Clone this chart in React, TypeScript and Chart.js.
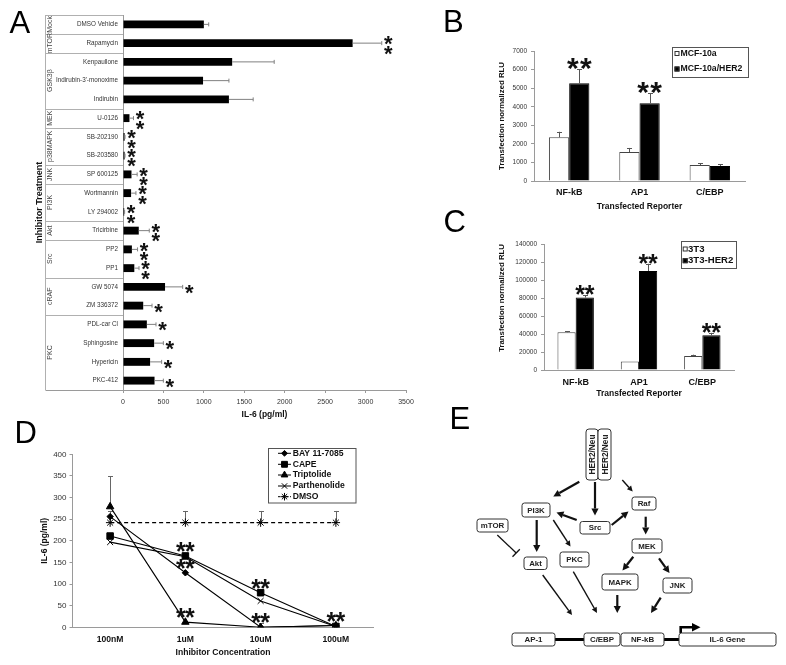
import React, { useEffect, useRef } from "react";
import { Chart, registerables } from "chart.js";
import { drawPoint } from "chart.js/helpers";

Chart.register(...registerables);

const FONT = "'Liberation Sans', Arial, Helvetica, sans-serif";

// ---------------- Panel A data ----------------
const aTreatments = [
  "DMSO Vehicle", "Rapamycin", "Kenpaullone", "Indirubin-3'-monoxime", "Indirubin",
  "U-0126", "SB-202190", "SB-203580", "SP 600125", "Wortmannin", "LY 294002",
  "Tricirbine", "PP2", "PP1", "GW 5074", "ZM 336372", "PDL-car Cl", "Sphingosine",
  "Hypericin", "PKC-412",
];
const aValues = [1000, 2840, 1350, 990, 1310, 80, 20, 20, 105, 100, 15, 195, 110, 140, 520, 250, 295, 385, 335, 390];
const aErrors = [60, 360, 520, 320, 300, 50, 5, 5, 70, 60, 5, 130, 70, 58, 218, 109, 113, 114, 143, 109];
const aSignificance = ["", "**", "", "", "", "**", "**", "**", "**", "**", "**", "**", "**", "**", "*", "*", "*", "*", "*", "*"];
const aGroupLabels = ["Mock", "mTOR", "GSK3β", "MEK", "p38MAPK", "JNK", "PI3K", "Akt", "Src", "cRAF", "PKC"];
const aGroupSizes = [1, 1, 3, 1, 2, 1, 2, 1, 2, 2, 4];

// ---------------- Panel B data ----------------
const reporterLabels = ["NF-kB", "AP1", "C/EBP"];
const bSeriesNames = ["MCF-10a", "MCF-10a/HER2"];
const bMcf10a = [2350, 1560, 860];
const bMcf10aErr = [300, 220, 100];
const bMcf10aHer2 = [5260, 4190, 810];
const bMcf10aHer2Err = [770, 530, 100];
const bSignificance = ["**", "**", ""];

// ---------------- Panel C data ----------------
const cSeriesNames = ["3T3", "3T3-HER2"];
const c3t3 = [42000, 9500, 15500];
const c3t3Err = [800, 0, 1500];
const c3t3Her2 = [80500, 110000, 38500];
const c3t3Her2Err = [2700, 8000, 2800];
const cSignificance = ["**", "**", "**"];

// ---------------- Panel D data ----------------
const concentrations = ["100nM", "1uM", "10uM", "100uM"];
const dSeriesNames = ["BAY 11-7085", "CAPE", "Triptolide", "Parthenolide", "DMSO"];
const dBay = [256, 126, 0, 4];
const dCape = [211, 165, 80, 2];
const dTriptolide = [279, 12, 0, 4];
const dParthenolide = [197, 163, 61, 2];
const dDmso = [242, 242, 242, 242];
const dBayErr = [0, 0, 0, 0];
const dCapeErr = [0, 0, 0, 0];
const dTriptolideErr = [70, 0, 10, 0];
const dParthenolideErr = [0, 0, 0, 0];
const dDmsoErr = [27, 27, 27, 27];
const dSigBay = ["", "**", "", ""];
const dSigCape = ["", "**", "**", ""];
const dSigTriptolide = ["", "**", "**", "**"];
const dSigParthenolide = ["", "", "", ""];
const dSigDmso = ["", "", "", ""];

// ---------------- styles ----------------
const dMarkerStyles = [
  { pointStyle: "rectRot", radius: 3.2, dash: [] as number[] },
  { pointStyle: "rect", radius: 4.6, dash: [] as number[] },
  { pointStyle: "triangle", radius: 4.3, dash: [] as number[] },
  { pointStyle: "crossRot", radius: 4.2, dash: [] as number[] },
  { pointStyle: "star", radius: 4.2, dash: [4, 3] },
];

const AXIS = "#9a9a9a";
const plainTick = (v: any) => String(v);

function drawAsterisks(ctx: CanvasRenderingContext2D, count: number, cx: number, cy: number, size: number, gap: number, vertical: boolean) {
  ctx.save();
  ctx.fillStyle = "#111";
  ctx.font = `bold ${size}px ${FONT}`;
  ctx.textAlign = "center";
  ctx.textBaseline = "alphabetic";
  for (let k = 0; k < count; k++) {
    const off = (k - (count - 1) / 2) * gap;
    const x = vertical ? cx : cx + off;
    const y = vertical ? cy + off : cy;
    ctx.fillText("*", x, y + size * 0.56);
  }
  ctx.restore();
}

function hline(ctx: CanvasRenderingContext2D, x1: number, x2: number, y: number) {
  ctx.beginPath();
  ctx.moveTo(x1, y);
  ctx.lineTo(x2, y);
  ctx.stroke();
}
function vline(ctx: CanvasRenderingContext2D, x: number, y1: number, y2: number) {
  ctx.beginPath();
  ctx.moveTo(x, y1);
  ctx.lineTo(x, y2);
  ctx.stroke();
}

// ---------------- Panel A ----------------
const panelAPlugin = {
  id: "panelA",
  afterDatasetsDraw(chart: any) {
    const ctx: CanvasRenderingContext2D = chart.ctx;
    const xs = chart.scales.x;
    const meta = chart.getDatasetMeta(0);
    ctx.save();
    ctx.strokeStyle = "#808080";
    ctx.lineWidth = 1;
    meta.data.forEach((bar: any, i: number) => {
      const x0 = bar.x;
      const y = bar.y;
      const x1 = xs.getPixelForValue(aValues[i] + aErrors[i]);
      hline(ctx, x0, x1, y);
      vline(ctx, x1, y - 2, y + 2);
      const n = aSignificance[i].length;
      if (n) drawAsterisks(ctx, n, x1 + 6.5, y + 0.7, 22, 9.4, true);
    });
    ctx.restore();
  },
  afterDraw(chart: any) {
    const ctx: CanvasRenderingContext2D = chart.ctx;
    const ys = chart.scales.y;
    const area = chart.chartArea;
    const half = (ys.getPixelForValue(1) - ys.getPixelForValue(0)) / 2;
    const leftX = 45.5;
    ctx.save();
    ctx.strokeStyle = "#b0b0b0";
    ctx.lineWidth = 1;
    let idx = 0;
    aGroupSizes.forEach((n, g) => {
      const top = ys.getPixelForValue(idx) - half;
      const bot = ys.getPixelForValue(idx + n - 1) + half;
      hline(ctx, leftX, area.left, Math.round(top) + 0.5);
      ctx.save();
      ctx.translate(50.5, (top + bot) / 2);
      ctx.rotate(-Math.PI / 2);
      ctx.fillStyle = "#444";
      ctx.font = `7px ${FONT}`;
      ctx.textAlign = "center";
      ctx.textBaseline = "middle";
      ctx.fillText(aGroupLabels[g], 0, 0);
      ctx.restore();
      idx += n;
    });
    ctx.strokeStyle = AXIS;
    hline(ctx, leftX, area.left, Math.round(area.bottom) + 0.5);
    ctx.strokeStyle = "#b0b0b0";
    vline(ctx, leftX, area.top, area.bottom);
    ctx.save();
    ctx.translate(39.5, (area.top + area.bottom) / 2);
    ctx.rotate(-Math.PI / 2);
    ctx.fillStyle = "#111";
    ctx.font = `bold 9px ${FONT}`;
    ctx.textAlign = "center";
    ctx.textBaseline = "middle";
    ctx.fillText("Inhibitor Treatment", 0, 0);
    ctx.restore();
    ctx.restore();
  },
};

function buildA(): any {
  return {
    type: "bar",
    data: {
      labels: aTreatments,
      datasets: [{ data: aValues, backgroundColor: "#000", barPercentage: 0.42, categoryPercentage: 1 }],
    },
    options: {
      indexAxis: "y",
      animation: false,
      responsive: true,
      maintainAspectRatio: false,
      events: [],
      layout: { padding: { left: 0, right: 24, top: 15, bottom: 0 } },
      plugins: { legend: { display: false }, tooltip: { enabled: false } },
      scales: {
        x: {
          type: "linear", min: 0, max: 3500,
          ticks: { stepSize: 500, font: { size: 7, family: FONT }, color: "#333", padding: 5, maxRotation: 0, callback: plainTick },
          grid: { drawOnChartArea: false, drawTicks: true, tickLength: 3, tickColor: AXIS },
          border: { color: AXIS },
          title: { display: true, text: "IL-6 (pg/ml)", font: { size: 8.5, weight: "bold", family: FONT }, color: "#111", padding: { top: 0, bottom: 5 } },
          afterFit: (s: any) => { s.height = 35; },
        },
        y: {
          type: "category",
          ticks: { font: { size: 6.3, family: FONT }, color: "#333", padding: 5, autoSkip: false },
          grid: { drawOnChartArea: false, drawTicks: false },
          border: { color: AXIS },
          afterFit: (s: any) => { s.width = 123; },
        },
      },
    },
    plugins: [panelAPlugin],
  };
}

// ---------------- Panels B & C ----------------
type LegendCfg = { box: [number, number, number, number]; ys: number[]; markerX: number; markerSize: number; textX: number; font: number; names: string[] };

function makeGroupedPlugin(id: string, errs: number[][], vals: number[][], sig: string[], star: { size: number; gap: number; lift: number }, legend: LegendCfg) {
  return {
    id,
    afterDatasetsDraw(chart: any) {
      const ctx: CanvasRenderingContext2D = chart.ctx;
      const ys = chart.scales.y;
      ctx.save();
      ctx.strokeStyle = "#555";
      ctx.lineWidth = 1;
      errs.forEach((errArr, d) => {
        const meta = chart.getDatasetMeta(d);
        meta.data.forEach((bar: any, j: number) => {
          if (!errArr[j]) return;
          const y0 = ys.getPixelForValue(vals[d][j]);
          const y1 = ys.getPixelForValue(vals[d][j] + errArr[j]);
          const x = Math.round(bar.x) + 0.5;
          vline(ctx, x, y0, y1);
          hline(ctx, x - 2.5, x + 2.5, Math.round(y1) + 0.5);
        });
      });
      const meta1 = chart.getDatasetMeta(1);
      sig.forEach((s, j) => {
        if (!s) return;
        const bar = meta1.data[j];
        const yTop = ys.getPixelForValue(vals[1][j] + errs[1][j]);
        drawAsterisks(ctx, s.length, bar.x, yTop - star.lift, star.size, star.gap, false);
      });
      const [bx, by, bw, bh] = legend.box;
      ctx.strokeStyle = "#555";
      ctx.strokeRect(bx + 0.5, by + 0.5, bw, bh);
      legend.names.forEach((name, k) => {
        const y = legend.ys[k];
        const m = legend.markerSize;
        ctx.fillStyle = k === 0 ? "#fff" : "#000";
        ctx.strokeStyle = "#333";
        ctx.fillRect(legend.markerX, y - m / 2, m, m);
        ctx.strokeRect(legend.markerX + 0.5, y - m / 2 + 0.5, m - 1, m - 1);
        ctx.fillStyle = "#111";
        ctx.font = `bold ${legend.font}px ${FONT}`;
        ctx.textAlign = "left";
        ctx.textBaseline = "middle";
        ctx.fillText(name, legend.textX, y);
      });
      ctx.restore();
    },
  };
}

function buildGrouped(opts: {
  vals: number[][]; names: string[]; max: number; step: number; pad: any; yWidth: number; xHeight: number;
  xLabelPad: number; yTitleAlign: string; plugin: any;
}): any {
  return {
    type: "bar",
    data: {
      labels: reporterLabels,
      datasets: [
        { label: opts.names[0], data: opts.vals[0], backgroundColor: "#fff", borderColor: "#444", borderWidth: 1, categoryPercentage: 0.575, barPercentage: 1 },
        { label: opts.names[1], data: opts.vals[1], backgroundColor: "#000", borderColor: "#000", borderWidth: 1, categoryPercentage: 0.575, barPercentage: 1 },
      ],
    },
    options: {
      animation: false,
      responsive: true,
      maintainAspectRatio: false,
      events: [],
      layout: { padding: opts.pad },
      plugins: { legend: { display: false }, tooltip: { enabled: false } },
      scales: {
        x: {
          type: "category",
          ticks: { font: { size: 9, weight: "bold", family: FONT }, color: "#111", padding: opts.xLabelPad, maxRotation: 0 },
          grid: { drawOnChartArea: false, drawTicks: false },
          border: { color: AXIS },
          title: { display: true, text: "Transfected Reporter", font: { size: 8.5, weight: "bold", family: FONT }, color: "#111", padding: { top: 0, bottom: 4 } },
          afterFit: (s: any) => { s.height = opts.xHeight; },
        },
        y: {
          type: "linear", min: 0, max: opts.max,
          ticks: { stepSize: opts.step, font: { size: 6.5, family: FONT }, color: "#333", padding: 4, callback: plainTick },
          grid: { drawOnChartArea: false, drawTicks: true, tickLength: 3, tickColor: AXIS },
          border: { color: AXIS },
          title: { display: true, text: "Transfection normalized RLU", align: opts.yTitleAlign, font: { size: 7.8, weight: "bold", family: FONT }, color: "#111", padding: { top: 4, bottom: 4 } },
          afterFit: (s: any) => { s.width = opts.yWidth; },
        },
      },
    },
    plugins: [opts.plugin],
  };
}

function buildB(): any {
  const vals = [bMcf10a, bMcf10aHer2];
  const plugin = makeGroupedPlugin("panelB", [bMcf10aErr, bMcf10aHer2Err], vals, bSignificance,
    { size: 30, gap: 13, lift: 8 },
    { box: [232, 7, 76, 30], ys: [13.5, 29], markerX: 234.5, markerSize: 5, textX: 240.5, font: 8.7, names: bSeriesNames });
  return buildGrouped({ vals, names: bSeriesNames, max: 7000, step: 1000, pad: { left: 53, right: 35, top: 11, bottom: 0 }, yWidth: 41, xHeight: 35, xLabelPad: 6.6, yTitleAlign: "center", plugin });
}

function buildC(): any {
  const vals = [c3t3, c3t3Her2];
  const plugin = makeGroupedPlugin("panelC", [c3t3Err, c3t3Her2Err], vals, cSignificance,
    { size: 25, gap: 9.5, lift: 6 },
    { box: [241, 6, 55, 27], ys: [14, 25.7], markerX: 242.7, markerSize: 5, textX: 248, font: 9.6, names: cSeriesNames });
  return buildGrouped({ vals, names: cSeriesNames, max: 140000, step: 20000, pad: { left: 53, right: 46, top: 9, bottom: 0 }, yWidth: 51, xHeight: 33, xLabelPad: 7.6, yTitleAlign: "end", plugin });
}

// ---------------- Panel D ----------------
const dValues = [dBay, dCape, dTriptolide, dParthenolide, dDmso];
const dErrors = [dBayErr, dCapeErr, dTriptolideErr, dParthenolideErr, dDmsoErr];
const dSigs = [dSigBay, dSigCape, dSigTriptolide, dSigParthenolide, dSigDmso];

const panelDPlugin = {
  id: "panelD",
  beforeDatasetsDraw(chart: any) {
    const ctx: CanvasRenderingContext2D = chart.ctx;
    const ys = chart.scales.y;
    ctx.save();
    ctx.strokeStyle = "#666";
    ctx.lineWidth = 1;
    dErrors.forEach((errArr, d) => {
      const meta = chart.getDatasetMeta(d);
      meta.data.forEach((pt: any, j: number) => {
        if (!errArr[j]) return;
        const y1 = ys.getPixelForValue(dValues[d][j] + errArr[j]);
        const x = Math.round(pt.x) + 0.5;
        vline(ctx, x, pt.y, y1);
        hline(ctx, x - 2.5, x + 2.5, Math.round(y1) + 0.5);
      });
    });
    ctx.restore();
  },
  afterDatasetsDraw(chart: any) {
    const ctx: CanvasRenderingContext2D = chart.ctx;
    dSigs.forEach((sigArr, d) => {
      const meta = chart.getDatasetMeta(d);
      sigArr.forEach((s, j) => {
        if (!s) return;
        const pt = meta.data[j];
        drawAsterisks(ctx, s.length, pt.x, pt.y - 10, 25, 9, false);
      });
    });
    ctx.save();
    ctx.strokeStyle = "#555";
    ctx.lineWidth = 1;
    ctx.strokeRect(268.5, 8.5, 87.5, 54.5);
    const rows = [13.3, 24.3, 35, 46, 56.7];
    dSeriesNames.forEach((name, k) => {
      const y = rows[k];
      const st = dMarkerStyles[k];
      ctx.strokeStyle = "#000";
      ctx.fillStyle = "#000";
      ctx.lineWidth = 1;
      ctx.setLineDash(st.dash.length ? [2.5, 1.5] : []);
      hline(ctx, 278, 291, y);
      ctx.setLineDash([]);
      drawPoint(ctx, { pointStyle: st.pointStyle as any, radius: st.radius * 0.9, rotation: 0, borderWidth: 1 } as any, 284.5, y);
      ctx.fillStyle = "#111";
      ctx.font = `bold 8.6px ${FONT}`;
      ctx.textAlign = "left";
      ctx.textBaseline = "middle";
      ctx.fillText(name, 292.7, y);
    });
    ctx.restore();
  },
};

function buildD(): any {
  return {
    type: "line",
    data: {
      labels: concentrations,
      datasets: dValues.map((vals, k) => ({
        label: dSeriesNames[k],
        data: vals,
        borderColor: "#000",
        backgroundColor: "#000",
        borderWidth: 1.1,
        borderDash: dMarkerStyles[k].dash,
        pointStyle: dMarkerStyles[k].pointStyle,
        pointRadius: dMarkerStyles[k].radius,
        pointBackgroundColor: "#000",
        pointBorderColor: "#000",
        pointBorderWidth: 1,
        tension: 0,
        fill: false,
      })),
    },
    options: {
      animation: false,
      responsive: true,
      maintainAspectRatio: false,
      events: [],
      layout: { padding: { left: 36, right: 46.5, top: 14.3, bottom: 0 } },
      plugins: { legend: { display: false }, tooltip: { enabled: false } },
      scales: {
        x: {
          type: "category",
          offset: true,
          ticks: { font: { size: 8.6, weight: "bold", family: FONT }, color: "#111", padding: 7.5, maxRotation: 0 },
          grid: { drawOnChartArea: false, drawTicks: false, offset: true },
          border: { color: AXIS },
          title: { display: true, text: "Inhibitor Concentration", font: { size: 8.6, weight: "bold", family: FONT }, color: "#111", padding: { top: 0, bottom: 7 } },
          afterFit: (s: any) => { s.height = 37.7; },
        },
        y: {
          type: "linear", min: 0, max: 400,
          ticks: { stepSize: 50, font: { size: 8, family: FONT }, color: "#333", padding: 3, callback: plainTick },
          grid: { drawOnChartArea: false, drawTicks: true, tickLength: 3, tickColor: AXIS },
          border: { color: AXIS },
          title: { display: true, text: "IL-6 (pg/ml)", font: { size: 8.5, weight: "bold", family: FONT }, color: "#111", padding: { top: 4, bottom: 4 } },
          afterFit: (s: any) => { s.width = 36.5; },
        },
      },
    },
    plugins: [panelDPlugin],
  };
}

// ---------------- Generic chart holder ----------------
function ChartPanel({ left, top, width, height, build }: { left: number; top: number; width: number; height: number; build: () => any }) {
  const ref = useRef<HTMLCanvasElement>(null);
  useEffect(() => {
    if (!ref.current) return;
    const chart = new Chart(ref.current, build());
    return () => chart.destroy();
  }, []);
  return (
    <div style={{ position: "absolute", left, top, width, height }}>
      <canvas ref={ref} />
    </div>
  );
}

// ---------------- Panel E (pathway diagram) ----------------
const eBoxes = [
  { t: "PI3K", x: 522, y: 503, w: 28, h: 14 },
  { t: "mTOR", x: 477, y: 519, w: 31, h: 13 },
  { t: "Src", x: 580, y: 521.5, w: 30, h: 12.5 },
  { t: "Raf", x: 632, y: 497, w: 24, h: 13 },
  { t: "MEK", x: 632, y: 539, w: 30, h: 14 },
  { t: "Akt", x: 524, y: 557, w: 23, h: 12.5 },
  { t: "PKC", x: 560, y: 552, w: 29, h: 15 },
  { t: "MAPK", x: 602, y: 574, w: 36, h: 16 },
  { t: "JNK", x: 663, y: 578, w: 29, h: 15 },
  { t: "AP-1", x: 512, y: 633, w: 43, h: 13 },
  { t: "C/EBP", x: 584, y: 633, w: 36, h: 13 },
  { t: "NF-kB", x: 621, y: 633, w: 43, h: 13 },
  { t: "IL-6 Gene", x: 679, y: 633, w: 97, h: 13 },
];
const eArrows: [number, number, number, number, boolean][] = [
  [579.3, 481.7, 553.3, 496.5, true],
  [595, 482, 595, 515.5, true],
  [622.3, 480, 632.7, 491.5, false],
  [576.7, 520, 556.5, 512.5, true],
  [611.7, 525, 628.5, 511.5, true],
  [536.7, 520, 536.7, 552, true],
  [553.3, 520, 570.5, 546.5, false],
  [645.7, 516.7, 645.7, 534.5, true],
  [633.3, 556.7, 622.5, 570.5, true],
  [659, 558.3, 669.5, 573, true],
  [542.7, 575, 572, 615, false],
  [573.3, 571.7, 597, 613, false],
  [617.3, 595, 617.3, 613, true],
  [660.7, 597.7, 651, 613, true],
];

function Arrow({ a }: { a: [number, number, number, number, boolean] }) {
  const [x1, y1, x2, y2, thick] = a;
  const w = thick ? 2.2 : 1.4;
  const hl = thick ? 7 : 5.5;
  const hw = thick ? 3.6 : 2.8;
  const dx = x2 - x1, dy = y2 - y1;
  const L = Math.hypot(dx, dy);
  const ux = dx / L, uy = dy / L;
  const bx = x2 - ux * hl, by = y2 - uy * hl;
  const px = -uy, py = ux;
  return (
    <g>
      <line x1={x1} y1={y1} x2={bx} y2={by} stroke="#111" strokeWidth={w} />
      <polygon points={`${x2},${y2} ${bx + px * hw},${by + py * hw} ${bx - px * hw},${by - py * hw}`} fill="#111" />
    </g>
  );
}

function Overlay() {
  const letter = { fontFamily: FONT, fontSize: 31, fill: "#000" } as any;
  const boxText = { fontFamily: FONT, fontSize: 7.9, fontWeight: "bold", fill: "#222" } as any;
  return (
    <svg width={786} height={665} style={{ position: "absolute", left: 0, top: 0, pointerEvents: "none" }}>
      <text x={9.5} y={33} style={letter}>A</text>
      <text x={443} y={32} style={letter}>B</text>
      <text x={443.5} y={232} style={letter}>C</text>
      <text x={14.5} y={443} style={letter}>D</text>
      <text x={449.5} y={429} style={letter}>E</text>

      <rect x={586} y={429} width={12} height={51} rx={3} fill="#fff" stroke="#333" strokeWidth={1} />
      <rect x={598} y={429} width={13} height={51} rx={3} fill="#fff" stroke="#333" strokeWidth={1} />
      <text transform="translate(592.3,454.5) rotate(-90)" textAnchor="middle" dominantBaseline="central" style={{ ...boxText, fontSize: 8.3 }}>HER2/Neu</text>
      <text transform="translate(604.7,454.5) rotate(-90)" textAnchor="middle" dominantBaseline="central" style={{ ...boxText, fontSize: 8.3 }}>HER2/Neu</text>

      {eArrows.map((a, i) => <Arrow key={i} a={a} />)}

      <line x1={497.3} y1={535} x2={516.2} y2={553} stroke="#111" strokeWidth={1.3} />
      <line x1={512.5} y1={556.8} x2={519.8} y2={549.3} stroke="#111" strokeWidth={1.3} />

      <line x1={555} y1={639.5} x2={584} y2={639.5} stroke="#000" strokeWidth={3} />
      <line x1={664} y1={639.5} x2={679} y2={639.5} stroke="#000" strokeWidth={3} />
      <polyline points="680.7,633 680.7,627.3 693,627.3" fill="none" stroke="#000" strokeWidth={2.6} />
      <polygon points="700.5,627.3 692,623 692,631.6" fill="#000" />

      {eBoxes.map((b) => (
        <g key={b.t}>
          <rect x={b.x} y={b.y} width={b.w} height={b.h} rx={2.5} fill="#fff" stroke="#333" strokeWidth={1} />
          <text x={b.x + b.w / 2} y={b.y + b.h / 2} textAnchor="middle" dominantBaseline="central" style={boxText}>{b.t}</text>
        </g>
      ))}
    </svg>
  );
}

export default function App() {
  return (
    <div style={{ position: "absolute", left: 0, top: 0, width: 786, height: 665, background: "#fff", overflow: "hidden" }}>
      <ChartPanel left={0} top={0} width={430} height={425} build={buildA} />
      <ChartPanel left={440} top={40} width={340} height={176} build={buildB} />
      <ChartPanel left={440} top={235} width={340} height={168} build={buildC} />
      <ChartPanel left={0} top={440} width={420} height={225} build={buildD} />
      <Overlay />
    </div>
  );
}
